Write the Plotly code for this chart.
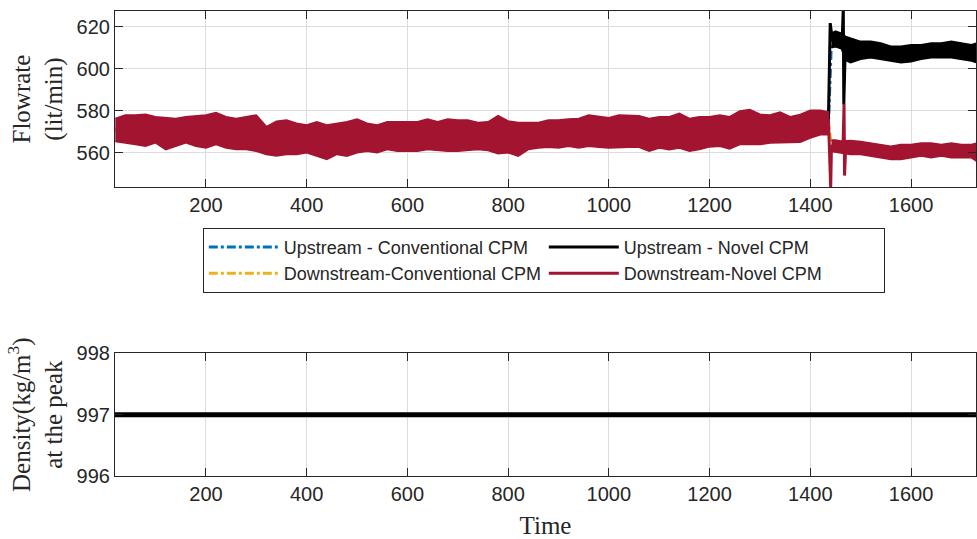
import plotly.graph_objects as go

# ---------------- data ----------------
# common band (all four series coincide before the event), upper / lower envelope
t_pre = list(range(20, 1440, 20)) + [1436]
upper_pre = [576.3, 577.9, 577.9, 578.3, 577.1, 576.6, 576.3, 577.1, 577.6, 577.9,
             579.1, 577.1, 576.3, 577.1, 577.9, 572.4, 575.0, 575.5, 574.0, 573.2,
             574.7, 573.2, 574.0, 574.7, 576.0, 574.0, 573.2, 574.7, 574.7,
             574.7, 574.7, 576.0, 574.7, 576.0, 575.5, 575.5, 574.4, 574.7, 577.6,
             575.1, 574.4, 574.4, 574.4, 575.5, 575.5, 576.0, 576.3, 577.9, 577.1,
             576.6, 577.9, 577.6, 577.6, 576.3, 577.1, 577.1, 578.7, 576.3,
             577.1, 577.1, 577.9, 577.1, 579.9, 580.5, 578.3, 577.9, 579.4, 577.1,
             578.2, 580.2, 580.2, 579.4]
lower_pre = [565.3, 564.6, 563.8, 563.0, 564.6, 561.4, 563.0, 564.6, 563.0, 562.2,
             563.8, 562.2, 561.4, 561.4, 560.6, 559.1, 558.3, 559.1, 559.1, 559.9,
             558.3, 556.7, 559.1, 558.3, 559.9, 560.6, 559.9, 561.4, 560.6,
             560.6, 560.6, 561.4, 561.0, 560.6, 560.6, 561.0, 561.4, 561.0, 559.4,
             559.9, 558.3, 561.4, 562.2, 562.5, 562.2, 563.0, 562.2, 563.0, 562.5,
             562.2, 562.2, 562.5, 562.5, 560.6, 562.2, 561.4, 562.2, 560.6,
             561.4, 562.7, 563.0, 561.7, 563.8, 563.8, 563.8, 564.6, 564.6, 564.9,
             564.9, 566.9, 568.5, 568.5]

# downstream - novel CPM after the event
t_post_down = [1442, 1450, 1460, 1470, 1480, 1500, 1520, 1540, 1560, 1580,
               1600, 1620, 1640, 1660, 1680, 1700, 1720, 1730]
upper_post_down = [566.0, 566.0, 565.5, 565.8, 565.8, 565.3, 564.5, 563.8, 563.0, 563.8,
                   563.8, 564.5, 564.5, 563.8, 564.5, 563.8, 563.8, 564.5]
lower_post_down = [560.5, 560.5, 560.0, 559.5, 559.1, 559.1, 558.3, 557.5, 556.7, 556.7,
                   557.5, 558.3, 557.5, 558.3, 557.5, 557.5, 557.5, 555.9]

# upstream - novel CPM after the event
t_post_up = [1442, 1450, 1456, 1462, 1470, 1480, 1500, 1520, 1540, 1560, 1580,
             1600, 1620, 1640, 1660, 1680, 1700, 1720, 1730]
upper_post_up = [617.0, 618.0, 617.5, 617.0, 615.5, 614.7, 613.1, 613.1, 612.3, 610.8, 610.8,
                 611.5, 611.5, 612.3, 612.3, 613.1, 612.3, 611.5, 612.3]
lower_post_up = [610.0, 610.5, 610.0, 609.5, 604.0, 602.9, 604.5, 605.3, 604.5, 603.7, 602.9,
                 603.4, 604.5, 605.3, 605.3, 605.3, 604.5, 603.7, 602.9]

# transients at the two events
spike_up_t = [1436, 1439.5, 1441, 1444, 1463, 1465.5, 1466.5, 1469]
spike_up_y = [576.0, 621.8, 619.0, 614.0, 612.0, 629.0, 583.0, 606.0]
spike_down_t = [1436, 1440.5, 1442, 1465, 1467, 1468, 1470]
spike_down_y = [576.0, 543.0, 563.0, 563.0, 583.3, 549.0, 561.0]

# density at the peak
density_t = [0, 1800]
density_v = [997, 997]

x_ticks = [200, 400, 600, 800, 1000, 1200, 1400, 1600]
flow_ticks = [560, 580, 600, 620]
density_ticks = [996, 997, 998]

names = ["Upstream - Conventional CPM", "Upstream - Novel CPM",
         "Downstream-Conventional CPM", "Downstream-Novel CPM"]
BLUE, BLACK, ORANGE, RED = "#0072BD", "#000000", "#EDB120", "#A2142F"

mid_pre = [(u + l) / 2 for u, l in zip(upper_pre, lower_pre)]
mid_up = [(u + l) / 2 for u, l in zip(upper_post_up, lower_post_up)]
mid_down = [(u + l) / 2 for u, l in zip(upper_post_down, lower_post_down)]

fig = go.Figure()

def band(t, up, lo, color):
    return go.Scatter(x=t + t[::-1], y=up + lo[::-1], fill="toself", mode="lines",
                      fillcolor=color, line=dict(color=color, width=1.5),
                      showlegend=False, hoverinfo="skip", xaxis="x", yaxis="y")

# conventional CPM (hidden beneath the novel traces)
fig.add_trace(go.Scatter(x=t_pre + t_post_up, y=mid_pre + mid_up, mode="lines",
                         line=dict(color=BLUE, width=3, dash="dashdot"),
                         name=names[0], legendrank=1, xaxis="x", yaxis="y"))
fig.add_trace(go.Scatter(x=t_pre + t_post_down, y=mid_pre + mid_down, mode="lines",
                         line=dict(color=ORANGE, width=3, dash="dashdot"),
                         name=names[2], legendrank=3, xaxis="x", yaxis="y"))
# upstream novel
fig.add_trace(band(t_post_up, upper_post_up, lower_post_up, BLACK))
fig.add_trace(go.Scatter(x=spike_up_t, y=spike_up_y, mode="lines",
                         line=dict(color=BLACK, width=3),
                         name=names[1], legendrank=2, xaxis="x", yaxis="y"))
# downstream novel
fig.add_trace(band(t_pre, upper_pre, lower_pre, RED))
fig.add_trace(band(t_post_down, upper_post_down, lower_post_down, RED))
fig.add_trace(go.Scatter(x=spike_down_t, y=spike_down_y, mode="lines",
                         line=dict(color=RED, width=3),
                         name=names[3], legendrank=4, xaxis="x", yaxis="y"))
# density
fig.add_trace(go.Scatter(x=density_t, y=density_v, mode="lines",
                         line=dict(color=BLACK, width=5), showlegend=False,
                         xaxis="x2", yaxis="y2"))

AX = "#262626"
tickfont = dict(family="Liberation Sans, Arial, sans-serif", size=20, color=AX)
titlefont = dict(family="Liberation Serif, Times New Roman, serif", size=25, color=AX)
common = dict(showline=True, linecolor=AX, linewidth=1.2, mirror="ticks",
              ticks="inside", ticklen=8, tickwidth=1.2, tickcolor=AX,
              showgrid=True, gridcolor="#dcdcdc", gridwidth=1, zeroline=False,
              tickfont=tickfont)
XR = [19.4, 1729]

fig.update_layout(
    width=977, height=539,
    margin=dict(l=115, r=0, t=6, b=63),
    paper_bgcolor="white", plot_bgcolor="white",
    xaxis=dict(domain=[0, 1], anchor="y", range=XR, tickvals=x_ticks, **common),
    yaxis=dict(domain=[0.6213, 1], anchor="x", range=[543.5, 627.6], tickvals=flow_ticks,
               title=dict(text="Flowrate<br>(lit/min)", font=titlefont, standoff=6), **common),
    xaxis2=dict(domain=[0, 1], anchor="y2", range=XR, tickvals=x_ticks,
                title=dict(text="Time", font=titlefont, standoff=12), **common),
    yaxis2=dict(domain=[0, 0.2638], anchor="x2", range=[996, 998], tickvals=density_ticks,
                title=dict(text="Density(kg/m<sup>3</sup>)<br>at the peak", font=titlefont,
                           standoff=6), **common),
    legend=dict(orientation="h", x=0.102, y=0.534, xanchor="left", yanchor="top",
                bgcolor="white", bordercolor=AX, borderwidth=1,
                font=dict(family="Liberation Sans, Arial, sans-serif", size=18, color=AX),
                entrywidth=255, itemwidth=70, traceorder="normal"),
)

fig.write_html("out.html")
